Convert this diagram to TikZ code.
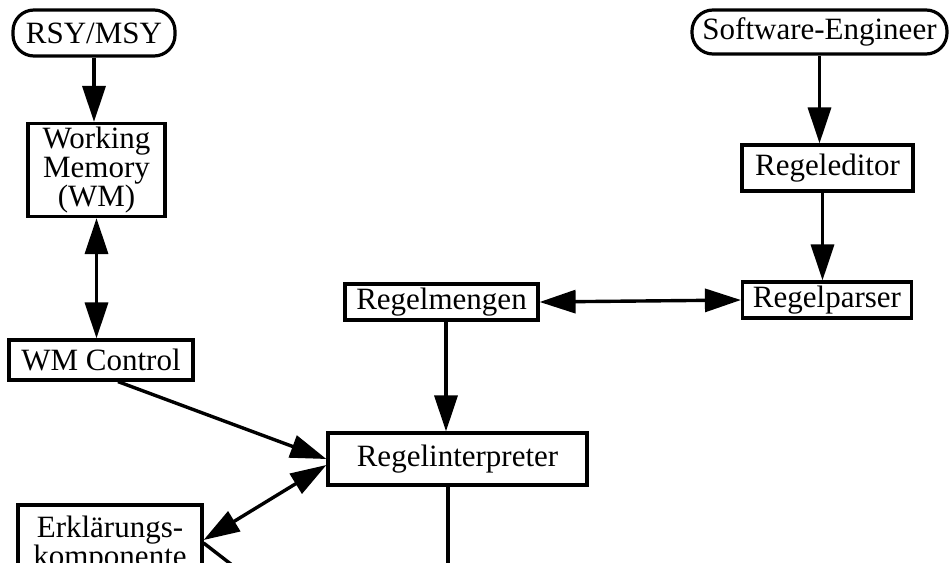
\documentclass[tikz,border=0pt]{standalone}
\usepackage{fontspec}
\setmainfont{Liberation Serif}
\usetikzlibrary{arrows.meta}
\begin{document}
\begin{tikzpicture}[x=1pt,y=-1pt,
  font=\fontsize{31}{29}\selectfont,
  box/.style={draw,line width=3.2pt,inner sep=0pt,align=center},
  term/.style={box,rounded corners=21pt},
  conn/.style={line width=3.4pt},
  arr/.style={conn,-{Triangle[length=36pt,width=23pt]}},
  darr/.style={conn,{Triangle[length=36pt,width=23pt]}-{Triangle[length=36pt,width=23pt]}}]
\clip (0,0) rectangle (949,562);
\fill[white] (0,0) rectangle (949,562);
\node[term,minimum width=162pt,minimum height=46pt] (rsy) at (94,33) {RSY/MSY};
\node[term,minimum width=255pt,minimum height=44pt] (se) at (819.5,32) {Software-Engineer};
\node[box,minimum width=137pt,minimum height=93pt] (wm) at (96.5,170) {Working\\Memory\\(WM)};
\node[box,minimum width=184pt,minimum height=40pt] (wmc) at (101,360) {WM Control};
\node[box,minimum width=171pt,minimum height=46pt] (re) at (827.5,168) {Regeleditor};
\node[box,minimum width=193pt,minimum height=36pt] (rm) at (441.5,302) {Regelmengen};
\node[box,minimum width=169pt,minimum height=36pt] (rp) at (827,300) {Regelparser};
\node[box,minimum width=259pt,minimum height=52pt] (ri) at (457.5,459) {Regelinterpreter};
\node[box,minimum width=184pt,minimum height=80pt] (ek) at (110,545) {Erklärungs-\\komponente};
\coordinate (riend) at (448,600);
\coordinate (ekend) at (245,575);
\draw[arr] (rsy.south) -- (rsy.south |- wm.north);
\draw[darr] (wm.south) -- (wm.south |- wmc.north);
\draw[arr] (se.south) -- (se.south |- re.north);
\draw[arr] ([xshift=-5pt]re.south) -- ([xshift=-5pt]re.south |- rp.north);
\draw[darr] (rm.east) -- (rp.west);
\draw[arr] ([xshift=4.5pt]rm.south) -- ([xshift=4.5pt]rm.south |- ri.north);
\draw[arr] ([xshift=17pt]wmc.south) -- (ri.west);
\draw[darr] ([yshift=-6pt]ri.west) -- ([yshift=5pt]ek.east);
\draw[conn] ([yshift=2pt]ek.east) -- (ekend);
\draw[conn] (riend |- ri.south) -- (riend);
\end{tikzpicture}
\end{document}
